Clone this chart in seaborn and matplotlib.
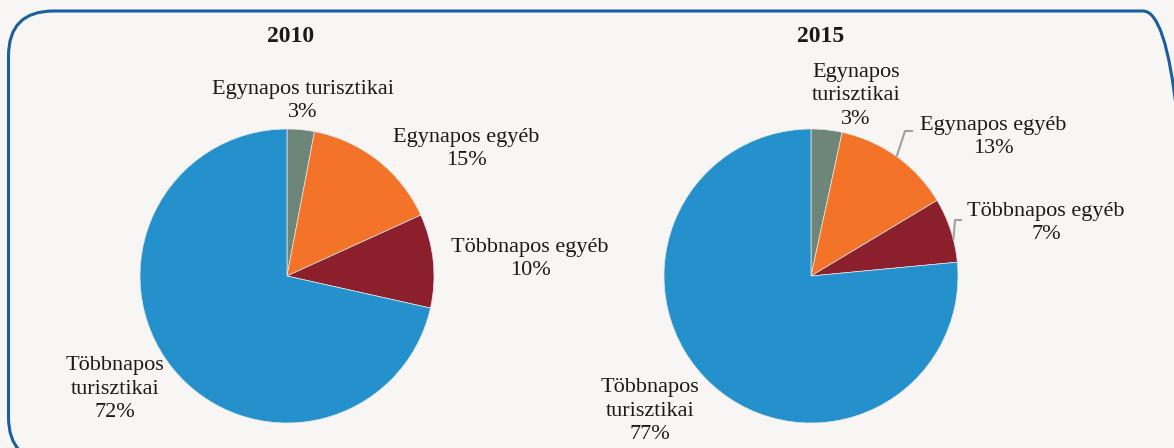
import numpy as np
import matplotlib
matplotlib.use("Agg")
import matplotlib.pyplot as plt
from matplotlib.patches import FancyBboxPatch
from matplotlib.transforms import IdentityTransform
import seaborn as sns

# ---- data ----
categories = ["Egynapos turisztikai", "Egynapos egyéb", "Többnapos egyéb", "Többnapos turisztikai"]
values_2010 = [3.0, 15.2, 10.3, 71.5]
values_2015 = [3.4, 13.0, 7.1, 76.5]
pct_2010 = ["3%", "15%", "10%", "72%"]
pct_2015 = ["3%", "13%", "7%", "77%"]
titles = ["2010", "2015"]
colors = ["#6e8579", "#f37329", "#8b1f2b", "#2491cd"]

sns.set_theme(style="white")
plt.rcParams['font.family'] = ['Liberation Serif', 'DejaVu Serif']

W, H = 1174, 448
BG = "#f7f6f4"
fig = plt.figure(figsize=(W / 100, H / 100), dpi=100, facecolor=BG)

def fx(x):
    return x / W

def fy(y):
    return 1 - y / H

# rounded border (pixel space)
box = FancyBboxPatch((8.5, H - 462), 1188 - 8.5, 462 - 11,
                     boxstyle="round,pad=0,rounding_size=45",
                     transform=IdentityTransform(), fill=False,
                     edgecolor="#1b5e9e", linewidth=2.2, clip_on=False)
fig.add_artist(box)

R = 147
centers = [(287, 276), (811, 276)]
TXT = "#1a1a1a"
FS = 16

def make_pie(cx, cy, vals):
    ax = fig.add_axes([fx(cx - R), fy(cy + R), 2 * R / W, 2 * R / H])
    wedges, _ = ax.pie(vals, colors=colors, startangle=90, counterclock=False,
                       radius=1, wedgeprops=dict(linewidth=0.5, edgecolor="#e8e8e8"))
    ax.set_xlim(-1, 1)
    ax.set_ylim(-1, 1)
    ax.axis("off")
    return ax, wedges

ax1, w1 = make_pie(*centers[0], values_2010)
ax2, w2 = make_pie(*centers[1], values_2015)

# titles
fig.text(fx(291), fy(37), titles[0], ha="center", va="center", fontsize=17,
         fontweight="bold", color=TXT)
fig.text(fx(821), fy(37), titles[1], ha="center", va="center", fontsize=17,
         fontweight="bold", color=TXT)

ls = 1.32
# 2010 labels
lab2010 = [
    (303, 101, f"{categories[0]}\n{pct_2010[0]}"),
    (466, 149, f"{categories[1]}\n{pct_2010[1]}"),
    (530, 259, f"{categories[2]}\n{pct_2010[2]}"),
    (115, 389, f"Többnapos\nturisztikai\n{pct_2010[3]}"),
]
for x, y, t in lab2010:
    fig.text(fx(x), fy(y), t, ha="center", va="center", fontsize=FS, color=TXT,
             linespacing=ls)

# 2015 labels
lab2015 = [
    (856, 96, f"Egynapos\nturisztikai\n{pct_2015[0]}"),
    (993, 137, f"{categories[1]}\n{pct_2015[1]}"),
    (1046, 223, f"{categories[2]}\n{pct_2015[2]}"),
    (650, 411, f"Többnapos\nturisztikai\n{pct_2015[3]}"),
]
for x, y, t in lab2015:
    fig.text(fx(x), fy(y), t, ha="center", va="center", fontsize=FS, color=TXT,
             linespacing=ls)

# leader lines for 2015 small slices (start near wedge on rim)
def rim_point(w, frac=0.5):
    ang = np.deg2rad(w.theta1 + (w.theta2 - w.theta1) * frac)
    return np.cos(ang), np.sin(ang)

def to_data(px, py, cx, cy):
    return (px - cx) / R, (cy - py) / R

cx2, cy2 = centers[1]
for w, frac, (kx, ky), (ex, ey) in [(w2[1], 0.5, (905, 131), (913, 131)),
                                    (w2[2], 0.35, (955, 220), (962, 220))]:
    sx, sy = rim_point(w, frac)
    k = to_data(kx, ky, cx2, cy2)
    e = to_data(ex, ey, cx2, cy2)
    ax2.plot([sx, k[0], e[0]], [sy, k[1], e[1]], color="#a0a0a0", lw=1.5,
             clip_on=False, solid_capstyle="butt")

fig.savefig("out.png", dpi=100, facecolor=BG)
